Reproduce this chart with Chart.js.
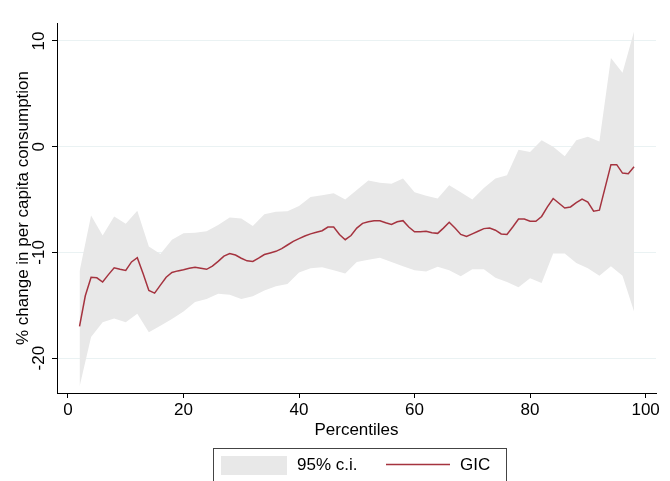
<!DOCTYPE html>
<html>
<head>
<meta charset="utf-8">
<script src="https://cdn.jsdelivr.net/npm/chart.js@4.4.1/dist/chart.umd.min.js"></script>
<style>
  html, body { margin: 0; padding: 0; background: #fff; }
  #wrap { width: 670px; height: 481px; overflow: hidden; }
</style>
</head>
<body>
<div id="wrap"><canvas id="gic" width="670" height="481"></canvas></div>
<script>
// percentiles for the confidence band (every 2nd) and for the curve
const ciPct = [2,4,6,8,10,12,14,16,18,20,22,24,26,28,30,32,34,36,38,40,42,44,46,48,50,
	52,54,56,58,60,62,64,66,68,70,72,74,76,78,80,82,84,86,88,90,92,94,96,98];
const ciUpper = [-11.8,-6.5,-8.4,-6.6,-7.3,-6.05,-9.45,-10.15,-8.8,-8.2,-8.15,-8.0,-7.4,-6.7,-6.8,-7.5,
	-6.4,-6.15,-6.1,-5.6,-4.75,-4.6,-4.4,-5.0,-4.1,-3.2,-3.4,-3.5,-3.0,-4.3,-4.65,-4.9,-3.65,-4.3,
	-5.0,-3.9,-3.0,-2.7,-0.3,-0.5,0.6,0.0,-0.9,0.6,0.95,0.5,8.4,7.0,10.9];
const ciLower = [-22.7,-18.0,-16.6,-16.25,-16.6,-15.8,-17.55,-16.95,-16.3,-15.6,-14.7,-14.4,-13.9,-14.0,
	-14.4,-14.15,-13.6,-13.2,-13.0,-11.9,-11.5,-11.4,-11.7,-12.0,-10.9,-10.7,-10.5,-10.9,-11.3,-11.7,
	-11.8,-11.35,-11.7,-12.25,-11.6,-11.6,-12.4,-12.8,-13.3,-12.45,-12.9,-10.1,-10.1,-11.0,-11.5,
	-12.2,-11.3,-12.2,-15.6];

const gicPct = [2,3,4,5,6,7,8,9,10,11,12,13,14,15,16,17,18,19,20,21,22,23,24,25,26,27,28,29,30,
	31,32,33,34,35,36,37,38,39,40,41,42,43,44,45,46,47,48,49,50,51,52,53,54,55,56,57,58,59,60,
	61,62,63,64,65,66,67,68,69,70,71,72,73,74,75,76,77,78,79,80,81,82,83,84,85,86,87,88,89,90,
	91,92,93,94,95,96,97,98];
const gicValues = [-17.0,-14.1,-12.35,-12.4,-12.8,-12.1,-11.45,-11.6,-11.7,-10.9,
	-10.5,-12.0,-13.6,-13.85,-13.1,-12.35,-11.9,-11.75,-11.65,-11.5,
	-11.4,-11.5,-11.6,-11.3,-10.85,-10.35,-10.1,-10.25,-10.55,-10.8,
	-10.85,-10.55,-10.2,-10.05,-9.9,-9.65,-9.3,-8.95,-8.7,-8.45,
	-8.25,-8.1,-7.95,-7.6,-7.6,-8.3,-8.8,-8.4,-7.7,-7.25,
	-7.1,-7.0,-7.0,-7.2,-7.35,-7.1,-7.0,-7.6,-8.05,-8.05,
	-8.0,-8.15,-8.2,-7.7,-7.15,-7.7,-8.3,-8.5,-8.25,-8.0,
	-7.75,-7.7,-7.9,-8.25,-8.3,-7.6,-6.85,-6.85,-7.05,-7.05,
	-6.6,-5.7,-4.9,-5.35,-5.8,-5.7,-5.3,-4.95,-5.25,-6.1,
	-6.0,-3.85,-1.7,-1.7,-2.5,-2.55,-1.9];

const xTicks = [0, 20, 40, 60, 80, 100];
const yTicks = [-20, -10, 0, 10];

const bandColor = '#e8e8e8';
const lineColor = '#a5333f';
const fontFam = '"Liberation Sans", Arial, Helvetica, sans-serif';
const fontSize = 17;

function toPoints(xs, ys) {
	return xs.map((x, i) => ({ x: x, y: ys[i] }));
}

// stata style legend box under the plot
const legendBox = {
	id: 'legendBox',
	afterDraw(chart) {
		const ctx = chart.ctx;
		ctx.save();
		ctx.strokeStyle = '#444';
		ctx.lineWidth = 1;
		ctx.strokeRect(213.5, 448.5, 293, 40);
		ctx.fillStyle = bandColor;
		ctx.fillRect(221, 456, 66, 19);
		ctx.strokeStyle = lineColor;
		ctx.lineWidth = 1.5;
		ctx.beginPath();
		ctx.moveTo(386, 464.5);
		ctx.lineTo(450, 464.5);
		ctx.stroke();
		ctx.fillStyle = '#000';
		ctx.font = fontSize + 'px ' + fontFam;
		ctx.textBaseline = 'middle';
		ctx.fillText('95% c.i.', 297, 465);
		ctx.fillText('GIC', 460, 465);
		ctx.restore();
	}
};

new Chart(document.getElementById('gic'), {
	type: 'line',
	data: {
		datasets: [{
			label: 'GIC',
			data: toPoints(gicPct, gicValues),
			borderColor: lineColor,
			borderWidth: 1.5,
			fill: false,
			order: 0
		}, {
			label: 'lower',
			data: toPoints(ciPct, ciLower),
			borderWidth: 0,
			borderColor: 'rgba(0,0,0,0)',
			fill: false,
			order: 1
		}, {
			label: '95% c.i.',
			data: toPoints(ciPct, ciUpper),
			borderWidth: 0,
			borderColor: 'rgba(0,0,0,0)',
			backgroundColor: bandColor,
			fill: 1,
			order: 2
		}]
	},
	options: {
		responsive: false,
		animation: false,
		layout: { padding: { top: 23, right: 14, bottom: 40, left: 0 } },
		elements: { point: { radius: 0 }, line: { tension: 0 } },
		plugins: {
			legend: { display: false },
			tooltip: { enabled: false }
		},
		scales: {
			x: {
				type: 'linear',
				min: -1.9,
				max: 101.8,
				afterBuildTicks: s => { s.ticks = xTicks.map(v => ({ value: v })); },
				afterFit: s => { s.height = 48; },
				grid: { drawOnChartArea: false, drawTicks: true, tickLength: 5, tickColor: '#000' },
				border: { color: '#000', width: 1 },
				ticks: { color: '#000', font: { family: fontFam, size: fontSize }, padding: 2, maxRotation: 0 },
				title: { display: true, text: 'Percentiles', color: '#000',
					font: { family: fontFam, size: fontSize }, padding: { top: 0, bottom: 0 } }
			},
			y: {
				min: -23.3,
				max: 11.7,
				afterBuildTicks: s => { s.ticks = yTicks.map(v => ({ value: v })); },
				afterFit: s => { s.width = 57; },
				grid: { color: '#eaf2f3', lineWidth: 1, drawTicks: true, tickLength: 5, tickColor: '#000' },
				border: { color: '#000', width: 1 },
				ticks: { color: '#000', font: { family: fontFam, size: fontSize }, padding: 0,
					minRotation: 90, maxRotation: 90, crossAlign: 'center' },
				title: { display: true, text: '% change in per capita consumption', color: '#000',
					font: { family: fontFam, size: fontSize }, padding: { top: 13, bottom: 0 } }
			}
		}
	},
	plugins: [legendBox]
});
</script>
</body>
</html>
